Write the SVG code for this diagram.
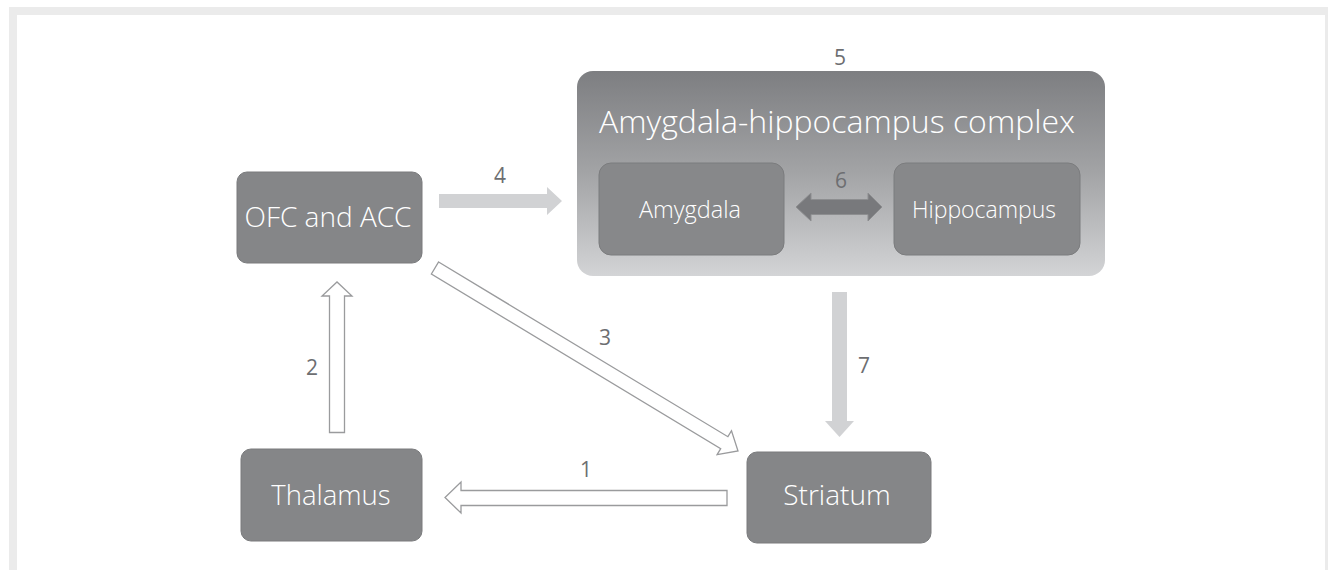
<svg xmlns="http://www.w3.org/2000/svg" width="1328" height="570" viewBox="0 0 1328 570">
<defs>
<linearGradient id="bigGrad" x1="0" y1="0" x2="0" y2="1">
<stop offset="0" stop-color="#7d7e81"/>
<stop offset="0.5" stop-color="#a3a4a6"/>
<stop offset="1" stop-color="#d3d4d6"/>
</linearGradient>
</defs>
<style>
.node{fill:#858688;stroke:#7a7b7d;stroke-width:1}
.inner{fill:#87888a;stroke:#7b7c7e;stroke-width:1}
.ntext{font-family:"Open Sans","Noto Sans",sans-serif;font-weight:300;fill:#ffffff;text-anchor:middle}
.num{font-family:"Open Sans","Noto Sans",sans-serif;font-size:21px;fill:#6d6e71;text-anchor:middle}
.solid{fill:#d1d2d4}
.dark{fill:#78797c;stroke:#8d8e90;stroke-width:1}
.outline{fill:#ffffff;stroke:#9a9b9d;stroke-width:1.3;stroke-linejoin:miter}
</style>
<rect x="9" y="7" width="1319" height="563" fill="#ebebeb"/>
<rect x="17" y="15" width="1308" height="555" fill="#ffffff"/>

<g id="amygdala-hippocampus-complex">
<rect x="577" y="71" width="528" height="205" rx="16" fill="url(#bigGrad)"/>
<text class="ntext" x="837" y="133" font-size="32">Amygdala-hippocampus complex</text>
</g>
<g id="amygdala">
<rect class="inner" x="599" y="163" width="185" height="92" rx="12"/>
<text class="ntext" x="690" y="218" font-size="23.5">Amygdala</text>
</g>
<g id="hippocampus">
<rect class="inner" x="894" y="163" width="186" height="92" rx="12"/>
<text class="ntext" x="984" y="218" font-size="23">Hippocampus</text>
</g>
<g id="ofc-acc">
<rect class="node" x="237" y="172" width="185" height="91" rx="10"/>
<text class="ntext" x="328" y="227" font-size="28">OFC and ACC</text>
</g>
<g id="thalamus">
<rect class="node" x="241" y="449" width="181" height="92" rx="10"/>
<text class="ntext" x="331" y="505" font-size="27.5">Thalamus</text>
</g>
<g id="striatum">
<rect class="node" x="747" y="452" width="184" height="91" rx="10"/>
<text class="ntext" x="837" y="505" font-size="28">Striatum</text>
</g>

<g id="connectors">
<polygon class="solid" points="439,194 547,194 547,187 562,201 547,215 547,208 439,208"/>
<polygon class="solid" points="832,292 847,292 847,421 854,421 839.5,437 825,421 832,421"/>
<polygon class="dark" points="796,207 811,193 811,199.5 868,199.5 868,193 882,207 868,221 868,214.5 811,214.5 811,221"/>
<polygon class="outline" points="329.5,432.5 344.5,432.5 344.5,296 352,296 337,282 322,296 329.5,296"/>
<polygon class="outline" points="727,490.5 727,505.5 461,505.5 461,513 445,497.5 461,482 461,490.5"/>
<polygon class="outline" points="438.6,262 727.9,436.7 731.5,430.7 738,451 717.1,454.7 720.7,448.7 431.4,274"/>
</g>

<g id="labels">
<text class="num" x="586" y="477">1</text>
<text class="num" x="312" y="375">2</text>
<text class="num" x="605" y="345">3</text>
<text class="num" x="500" y="183">4</text>
<text class="num" x="840" y="65">5</text>
<text class="num" x="841" y="188">6</text>
<text class="num" x="864" y="373">7</text>
</g>
</svg>
